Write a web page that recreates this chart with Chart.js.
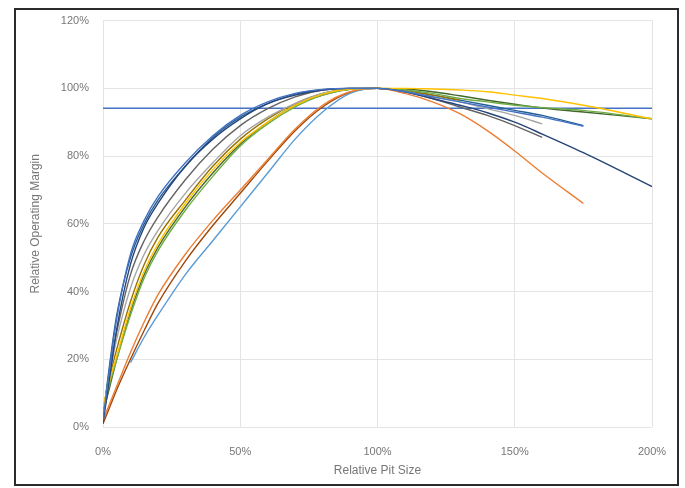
<!DOCTYPE html>
<html>
<head>
<meta charset="utf-8">
<script src="https://cdn.jsdelivr.net/npm/chart.js@4.4.1/dist/chart.umd.min.js"></script>
<style>
  body { margin: 0; background: #fff; }
  #wrap { position: relative; width: 685px; height: 488px; }
  #frame { position: absolute; left: 14px; top: 8px; width: 661px; height: 474px; border: 2px solid #2b2b2b; pointer-events: none; }
</style>
</head>
<body>
<div id="wrap">
  <canvas id="chart" width="685" height="488"></canvas>
  <div id="frame"></div>
</div>
<script>
// relative pit size (%) for each sampled point
const pitSizes = [0, 2.5, 5, 10, 15, 20, 30, 40, 50, 60, 70, 80, 90, 100, 110, 120, 130, 140, 150, 160, 175, 200];

// relative operating margin (%) per pit
const pitA = [2, 18, 32, 51, 61, 68, 78, 86, 92, 96, 98.5, 99.7, 100, 100, 99, 97.5, 96, 94.5, 93, 91.5, 88.8, null];
const pitB = [1, 15, 29, 48, 59, 66, 77, 85, 91, 95.5, 98, 99.5, 100, 100, 99, 97, 95, 92.8, 90, 86.5, 81, 71];
const pitC = [6, 14, 21, 35, 46, 54, 66, 76, 84, 90, 95, 98.3, 99.8, 100, 100, 99.8, 99.5, 99, 98, 97, 95, 91];
const pitD = [5, 13, 20, 33, 44, 52, 64, 74, 83, 89.5, 94.5, 98, 99.7, 100, 99.5, 98.5, 97, 96, 95, 94.3, 93.5, 91];
const pitE = [4, 16, 26, 41, 51, 58, 69, 78, 86, 91.5, 95.5, 98.5, 99.8, 100, 99, 97.5, 96, 94, 92, 89.5, null, null];
const pitF = [2, 7, 12, 22, 31, 39, 51, 61, 70, 79, 88, 95, 99, 100, 98.5, 96, 92.5, 87.5, 81.5, 75, 66, null];
const pitG = [null, null, null, 19, 26.5, 33, 45, 55, 65, 75, 85, 93, 98.5, 100, 99, null, null, null, null, null, null, null];
const pitH = [3, 17, 28, 45, 55, 62, 73, 82, 89, 94, 97.5, 99.5, 100, 100, 99, 97, 94.5, 92, 89, 85.5, null, null];
const pitI = [5, 15, 23, 37, 48, 56, 67, 77, 85, 91, 95.5, 98.5, 99.8, 100, 99.3, 98, 96.5, null, null, null, null, null];
const pitJ = [1, 6, 11, 20, 28.5, 36.5, 49, 59.5, 69, 78.5, 87.5, 94.5, 98.8, 100, 99, 97.3, null, null, null, null, null, null];
const pitK = [3, 19, 33, 50, 60, 67, 77, 85.5, 91.5, 95.5, 98.3, 99.6, 100, 100, 99.2, 98, 96.5, 95, 93.5, 92, 89, null];
const pitL = [4, 12, 20, 34, 45, 53, 65, 75, 83.5, 90, 95, 98, 99.7, 100, 99.8, 99, 97.8, 96.5, 95.3, 94.2, 93, 91];

const pitSeries = [pitA, pitB, pitC, pitD, pitE, pitF, pitG, pitH, pitI, pitJ, pitK, pitL];
const pitColors = ['#4472C4', '#264478', '#FFC000', '#70AD47', '#A5A5A5', '#ED7D31',
                   '#5B9BD5', '#636363', '#997300', '#9E480E', '#255E91', '#43682B'];

// 94% cut-off line across the whole range
const cutoffXs = [0, 200];
const cutoffLevel = 94.1;

const xTicks = [0, 50, 100, 150, 200];
const yTicks = [0, 20, 40, 60, 80, 100, 120];

const toPoints = ys => pitSizes.map((x, i) => ({ x: x, y: ys[i] }));

const datasets = pitSeries.map((ys, i) => ({
    data: toPoints(ys),
    borderColor: pitColors[i],
    borderWidth: 1.4,
    pointRadius: 0,
    cubicInterpolationMode: 'monotone',
    spanGaps: false
}));

datasets.push({
    data: cutoffXs.map(x => ({ x: x, y: cutoffLevel })),
    borderColor: '#4472C4',
    borderWidth: 1.4,
    pointRadius: 0
});

const tickFont = { family: 'Liberation Sans', size: 11 };

new Chart(document.getElementById('chart'), {
    type: 'line',
    data: { datasets: datasets },
    options: {
        responsive: false,
        animation: false,
        layout: { padding: { left: 20, right: 33, top: 19, bottom: 6 } },
        plugins: { legend: { display: false }, tooltip: { enabled: false } },
        scales: {
            x: {
                type: 'linear',
                min: 0,
                max: 200,
                afterBuildTicks: s => { s.ticks = xTicks.map(v => ({ value: v })); },
                afterFit: s => { s.height = 55; },
                grid: { color: '#e4e4e4', drawTicks: false },
                border: { display: false },
                ticks: { callback: v => v + '%', color: '#777777', font: tickFont, padding: 18, maxRotation: 0 },
                title: { display: true, text: 'Relative Pit Size', color: '#777777', font: { family: 'Liberation Sans', size: 12 }, padding: { top: 2 } }
            },
            y: {
                min: 0,
                max: 120,
                afterBuildTicks: s => { s.ticks = yTicks.map(v => ({ value: v })); },
                afterFit: s => { s.width = 83; },
                grid: { color: '#e4e4e4', drawTicks: false },
                border: { display: false },
                ticks: { callback: v => v + '%', color: '#777777', font: tickFont, padding: 14 },
                title: { display: true, text: 'Relative Operating Margin', color: '#777777', font: { family: 'Liberation Sans', size: 12 }, padding: { top: 8 } }
            }
        }
    }
});
</script>
</body>
</html>
